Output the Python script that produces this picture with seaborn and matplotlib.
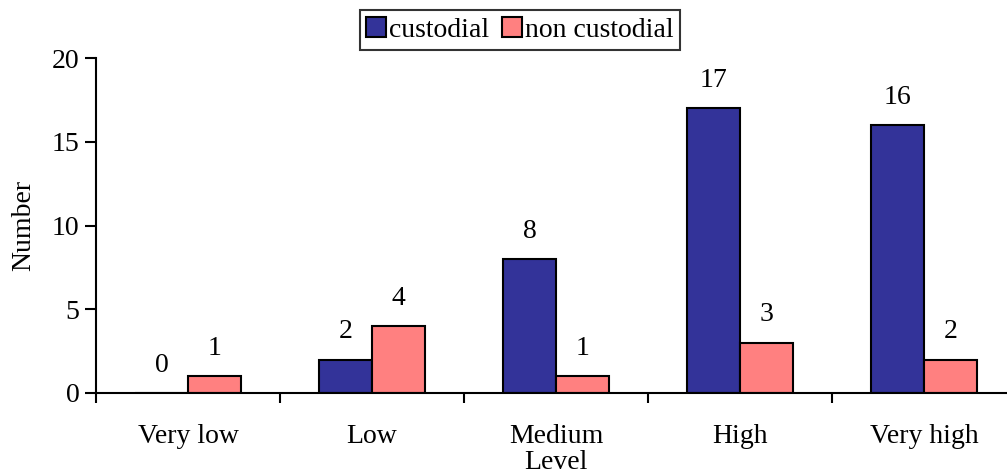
import pandas as pd
import seaborn as sns
import matplotlib.pyplot as plt

# values
levels = ["Very low", "Low", "Medium", "High", "Very high"]
custodial = [0, 2, 8, 17, 16]
non_custodial = [1, 4, 1, 3, 2]

df = pd.DataFrame({
    "Level": levels * 2,
    "Number": custodial + non_custodial,
    "group": ["custodial"] * len(levels) + ["non custodial"] * len(levels),
})

sns.set_style("white")
plt.rcParams["font.family"] = ["Liberation Serif", "DejaVu Serif"]
plt.rcParams["font.size"] = 20
for k in ["text.color", "axes.labelcolor", "xtick.color", "ytick.color"]:
    plt.rcParams[k] = "black"
plt.rcParams["xtick.bottom"] = True
plt.rcParams["ytick.left"] = True

fig = plt.figure(figsize=(10.07, 4.75), dpi=100)
ax = fig.add_axes([96 / 1007, 82 / 475, 920 / 1007, 335 / 475])

colors = {"custodial": "#333399", "non custodial": "#FF8080"}
sns.barplot(data=df, x="Level", y="Number", hue="group", order=levels,
            palette=colors, width=0.576, gap=0, edgecolor="black",
            linewidth=1.5, saturation=1, ax=ax)

# value labels above every bar (including the zero one)
for cont in ax.containers:
    ax.bar_label(cont, padding=11, fontsize=20)

ax.set_xlim(-0.5, 4.5)
ax.set_ylim(0, 20)
ax.set_yticks([0, 5, 10, 15, 20])
ax.set_xticks(range(len(levels)))
ax.set_xticklabels(levels)
ax.set_xticks([-0.5, 0.5, 1.5, 2.5, 3.5], minor=True)
ax.tick_params(axis="x", which="major", length=0, pad=22, labelsize=20)
ax.tick_params(axis="x", which="minor", length=7, width=1.5, direction="out")
ax.tick_params(axis="y", length=8, width=1.5, direction="out", pad=4, labelsize=20)

for s in ["top", "right"]:
    ax.spines[s].set_visible(False)
for s in ["left", "bottom"]:
    ax.spines[s].set_linewidth(1.5)
    ax.spines[s].set_color("black")

ax.set_xlabel("Level", fontsize=20, labelpad=1)
ax.set_ylabel("Number", fontsize=20, labelpad=11)

ax.legend_.remove()
handles = [plt.Line2D([], [], marker="s", linestyle="none", markersize=15,
                      markerfacecolor=colors[k], markeredgecolor="black",
                      markeredgewidth=1.5) for k in colors]
leg = fig.legend(handles, list(colors), loc="center",
                 bbox_to_anchor=(520 / 1007, 1 - 30 / 475), ncol=2,
                 frameon=True, fancybox=False, fontsize=20,
                 handlelength=0.7, handletextpad=0.1, columnspacing=0.5,
                 borderpad=0.25, borderaxespad=0)
leg.get_frame().set_edgecolor("black")
leg.get_frame().set_linewidth(1.5)

fig.savefig("out.png", dpi=100)
